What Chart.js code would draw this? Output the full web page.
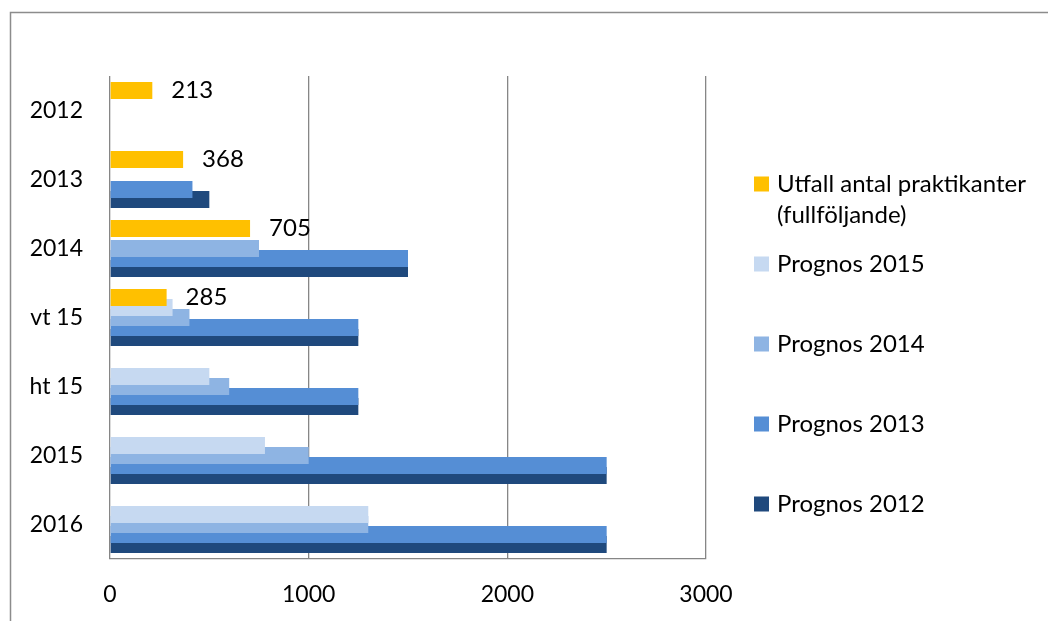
<!DOCTYPE html>
<html>
<head>
<meta charset="utf-8">
<script src="https://cdn.jsdelivr.net/npm/chart.js@4.4.1/dist/chart.umd.min.js"></script>
<style>
  html, body { margin: 0; padding: 0; background: #fff; }
  #wrap { width: 1048px; height: 621px; }
</style>
</head>
<body>
<div id="wrap"><canvas id="chart"></canvas></div>
<script>
// Category labels (top to bottom)
var categories = ['2012', '2013', '2014', 'vt 15', 'ht 15', '2015', '2016'];

// Series values, one entry per category (null = no bar)
var utfall      = [213, 368, 705, 285, null, null, null];
var prognos2015 = [null, null, null, 315, 500, 780, 1300];
var prognos2014 = [null, null, 750, 400, 600, 1000, 1300];
var prognos2013 = [null, 415, 1500, 1250, 1250, 2500, 2500];
var prognos2012 = [null, 500, 1500, 1250, 1250, 2500, 2500];

// x axis ticks
var xTicks = [0, 1000, 2000, 3000];

var seriesLabels = [
  ['Utfall antal praktikanter', '(fullföljande)'],
  ['Prognos 2015'],
  ['Prognos 2014'],
  ['Prognos 2013'],
  ['Prognos 2012']
];

var FONT = 'Lato, "Open Sans", sans-serif';
var GRID = '#868686';

// white background + outer frame
Chart.register({
  id: 'frame',
  beforeDraw: function(c) {
    var ctx = c.ctx;
    ctx.save();
    ctx.fillStyle = '#ffffff';
    ctx.fillRect(0, 0, c.width, c.height);
    ctx.strokeStyle = '#8c8c8c';
    ctx.lineWidth = 1.5;
    ctx.strokeRect(10.5, 12.5, c.width + 50, c.height + 50);
    ctx.restore();
  }
});

// value labels for the first series only
Chart.register({
  id: 'valueLabels',
  afterDatasetsDraw: function(c) {
    var ctx = c.ctx;
    var meta = c.getDatasetMeta(0);
    ctx.save();
    ctx.font = '24px ' + FONT;
    ctx.fillStyle = '#000';
    ctx.textAlign = 'left';
    ctx.textBaseline = 'middle';
    meta.data.forEach(function(bar, i) {
      var v = c.data.datasets[0].data[i];
      if (v == null) return;
      ctx.fillText(String(v), bar.x + 19, bar.y);
    });
    ctx.restore();
  }
});

// legend on the right, drawn by hand to allow a two-line label
Chart.register({
  id: 'sideLegend',
  afterDraw: function(c) {
    var ctx = c.ctx;
    var x = 754, y = 184, step = 80, lineH = 31;
    ctx.save();
    ctx.font = '24px ' + FONT;
    ctx.textAlign = 'left';
    ctx.textBaseline = 'middle';
    c.data.datasets.forEach(function(ds, i) {
      var cy = y + step * i;
      ctx.fillStyle = ds.backgroundColor;
      ctx.fillRect(x, cy - 7.5, 15, 15);
      ctx.fillStyle = '#000';
      seriesLabels[i].forEach(function(t, j) {
        ctx.fillText(t, x + 23, cy + j * lineH);
      });
    });
    ctx.restore();
  }
});

function makeSet(idx, data, color) {
  return {
    label: seriesLabels[idx].join(' '),
    data: data,
    backgroundColor: color,
    borderWidth: 0,
    categoryPercentage: 50 / 69,
    barPercentage: 1.7
  };
}

new Chart(document.getElementById('chart'), {
  type: 'bar',
  data: {
    labels: categories,
    datasets: [
      makeSet(0, utfall, '#FFC000'),
      makeSet(1, prognos2015, '#C6D9F1'),
      makeSet(2, prognos2014, '#8EB4E3'),
      makeSet(3, prognos2013, '#558ED5'),
      makeSet(4, prognos2012, '#1F497D')
    ]
  },
  options: {
    indexAxis: 'y',
    responsive: true,
    maintainAspectRatio: false,
    animation: false,
    layout: { padding: { top: 76, right: 342, left: 0, bottom: 0 } },
    plugins: {
      legend: { display: false },
      tooltip: { enabled: false }
    },
    scales: {
      x: {
        min: 0,
        max: 3000,
        afterBuildTicks: function(s) {
          s.ticks = xTicks.map(function(v) { return { value: v }; });
        },
        afterFit: function(s) { s.height = 62; },
        grid: { color: GRID, lineWidth: 1.3, drawTicks: false },
        border: { display: true, color: GRID, width: 1.3 },
        ticks: {
          padding: 22,
          color: '#000',
          font: { family: FONT, size: 23 },
          callback: function(v) { return String(v); }
        }
      },
      y: {
        afterFit: function(s) { s.width = 110; },
        grid: { display: false, drawTicks: false },
        border: { display: false },
        ticks: { padding: 27, color: '#000', font: { family: FONT, size: 23 } }
      }
    }
  }
});
</script>
</body>
</html>
